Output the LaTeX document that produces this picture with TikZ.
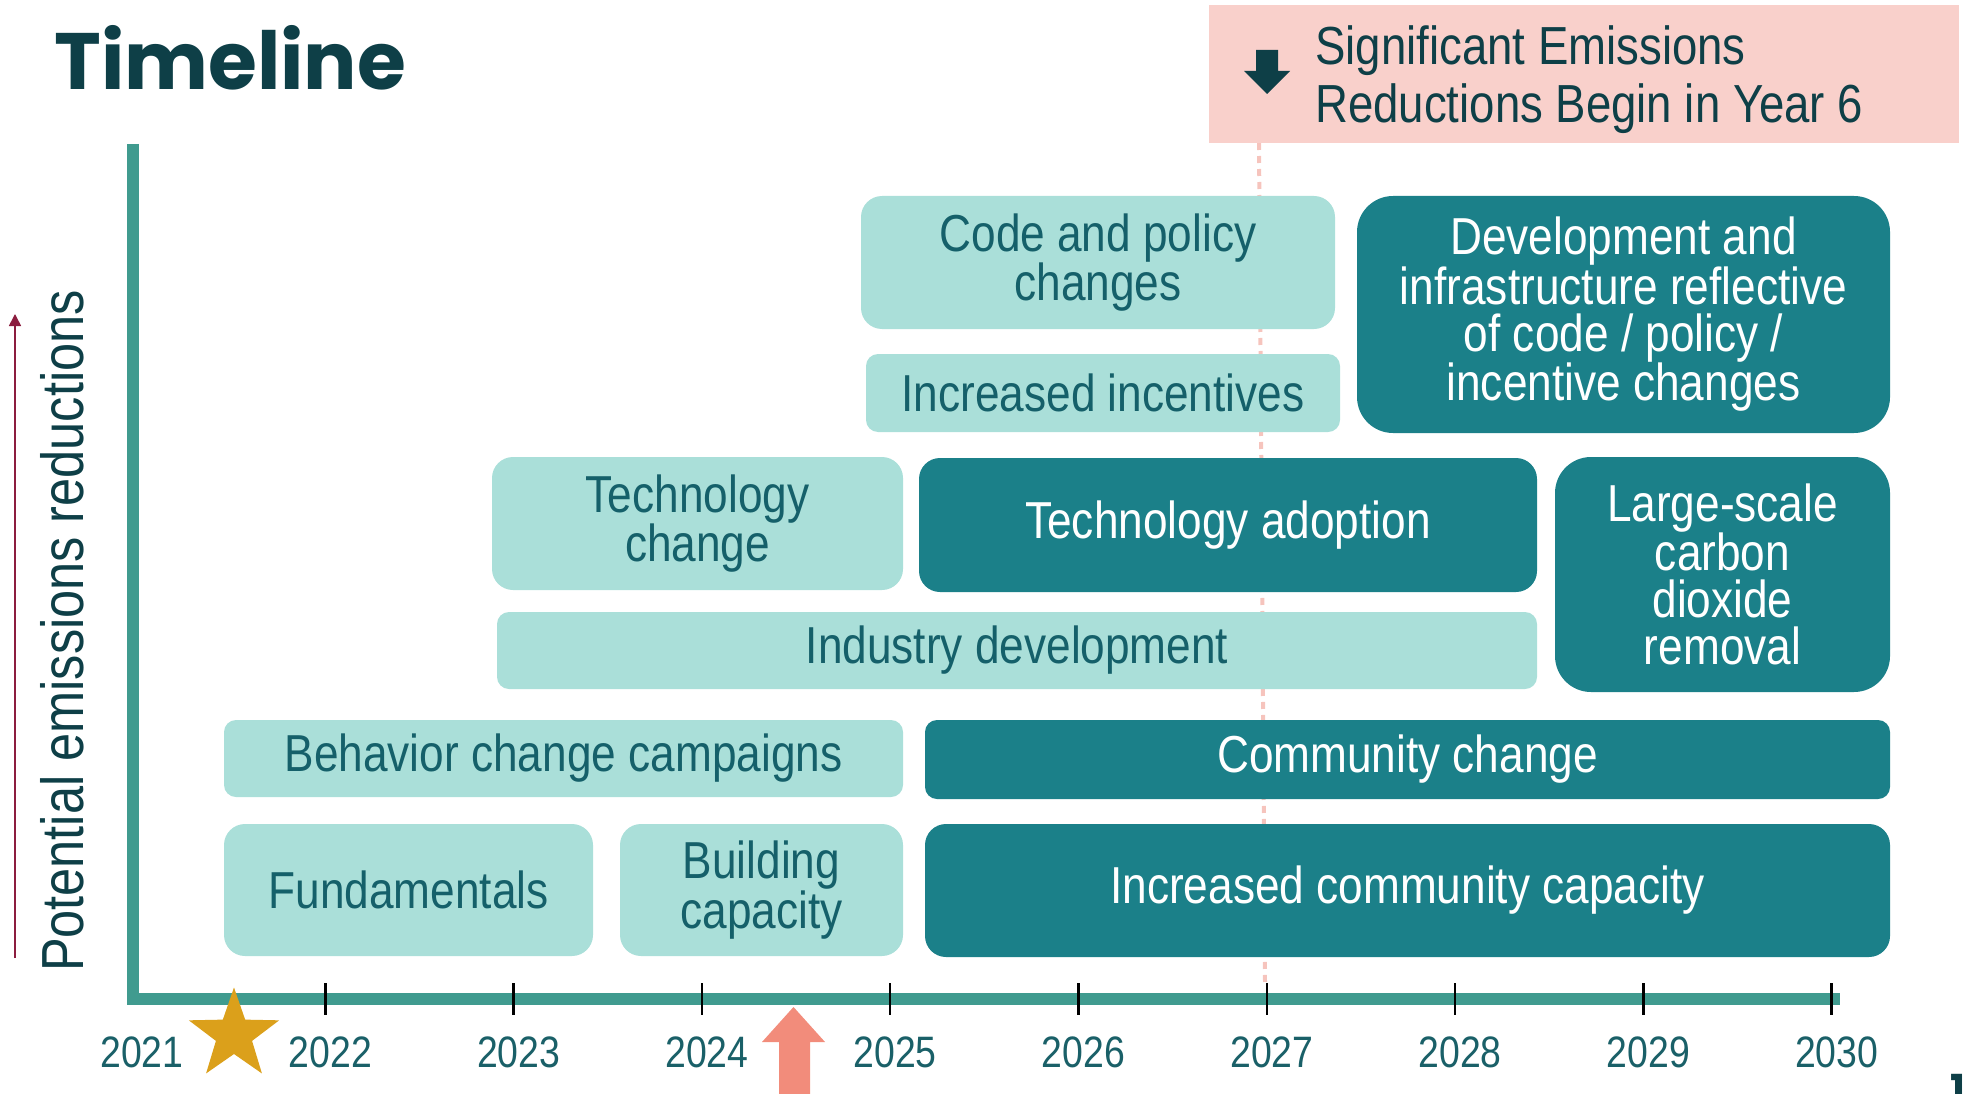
\documentclass[tikz,border=0pt]{standalone}
\usepackage{fontspec}
\setmainfont{Liberation Sans}[FakeStretch=0.85]
\newfontfamily\titlefont{Poppins}[FakeStretch=0.99]
\usetikzlibrary{shapes.geometric,arrows.meta}
\definecolor{lightfill}{HTML}{AADFD9}
\definecolor{darkfill}{HTML}{1B8089}
\definecolor{lighttext}{HTML}{15606A}
\definecolor{axisgreen}{HTML}{409B8F}
\definecolor{titlecol}{HTML}{0E3F47}
\definecolor{pinkbg}{HTML}{F9D0CB}
\definecolor{dotpink}{HTML}{F6C4BD}
\definecolor{stargold}{HTML}{DBA01B}
\definecolor{salmon}{HTML}{F28C7B}
\definecolor{maroonc}{HTML}{8C1D3F}
\definecolor{yearcol}{HTML}{1A6068}
\tikzset{
  lbox/.style={fill=lightfill, text=lighttext, align=center, inner sep=0pt, draw=none,
    font=\fontsize{52}{47}\selectfont},
  dbox/.style={fill=darkfill, text=white, align=center, inner sep=0pt, draw=none,
    font=\fontsize{52}{47}\selectfont},
  yearst/.style={text=yearcol, font=\fontsize{44}{44}\selectfont, inner sep=0pt, anchor=base},
  tickst/.style={black, line width=2.5pt},
}
\begin{document}
\begin{tikzpicture}[x=1pt,y=-1pt]
\useasboundingbox (0,0) rectangle (1969,1094);
% title
\node[anchor=base west, inner sep=0pt, text=titlecol, font=\titlefont\bfseries\fontsize{80}{80}\selectfont] (title) at (54,90) {Timeline};
% dotted line
\coordinate (dtop) at (1259,143);
\coordinate (dbot) at (1265,983);
\draw[dotpink, line width=4pt, dash pattern=on 7pt off 6pt] (dtop) -- (dbot);
% banner
\node[fill=pinkbg, minimum width=750, minimum height=138, inner sep=0pt] (banner) at (1584,74) {};
\fill[titlecol] (1256,50) -- (1278,50) -- (1278,71) -- (1290,71) -- (1267,94) -- (1244,71) -- (1256,71) -- cycle;
\node[anchor=base west, inner sep=0pt, text=titlecol, font=\fontsize{53.6}{58}\selectfont] (ban1) at (1315,65) {Significant Emissions};
\node[anchor=base west, inner sep=0pt, text=titlecol, font=\fontsize{53.6}{58}\selectfont] (ban2) at (1315,123) {Reductions Begin in Year 6};
% axes
\coordinate (ytop) at (133,144);
\coordinate (origin) at (133,999);
\coordinate (xend) at (1840,999);
\draw[axisgreen, line width=12pt, line join=miter] (ytop) -- (origin) -- (xend);
\foreach \k in {1,...,9} {
  \draw[tickst] ({137+188.3*\k},983) -- ({137+188.3*\k},1015);
}
\foreach \yr [count=\k from 0] in {2021,2022,2023,2024,2025,2026,2027,2028,2029,2030} {
  \node[yearst] (yr\yr) at ({142+188.3*\k},1067) {\yr};
}
% y label and arrow
\node[rotate=90, inner sep=0pt, text=titlecol, font=\fontsize{59.4}{59}\selectfont] (ylabel) at (62,631) {Potential emissions reductions};
\coordinate (ya) at (15,958);
\coordinate (yb) at (15,314);
\draw[maroonc, line width=1.6pt, -{Triangle[width=12pt,length=12pt]}] (ya) -- (yb);
% star
\node[star, star points=5, star point ratio=2.5, fill=stargold, minimum size=95, inner sep=0pt] (star) at (234,1035) {};
% salmon arrow
\fill[salmon] (779,1100) -- (779,1042) -- (762,1042) -- (793.5,1007) -- (825,1042) -- (810,1042) -- (810,1100) -- cycle;
% boxes
\node[lbox, rounded corners=21pt, minimum width=369, minimum height=132] (fund) at (408.5,890) {Fundamentals};
\node[lbox, rounded corners=21pt, minimum width=283, minimum height=132] (build) at (761.5,890) {Building\\capacity};
\node[dbox, rounded corners=21pt, minimum width=965, minimum height=133] (icc) at (1407.5,890.5) {Increased community capacity};
\node[lbox, rounded corners=12pt, minimum width=679, minimum height=77] (behav) at (563.5,758.5) {Behavior change campaigns};
\node[dbox, rounded corners=12pt, minimum width=965, minimum height=79] (comm) at (1407.5,759.5) {Community change};
\node[lbox, rounded corners=12pt, minimum width=1040, minimum height=77] (indus) at (1017,650.5) {Industry development};
\node[lbox, rounded corners=21pt, minimum width=411, minimum height=133] (techc) at (697.5,523.5) {Technology\\change};
\node[dbox, rounded corners=21pt, minimum width=618, minimum height=134] (techa) at (1228,525) {Technology adoption};
\node[dbox, rounded corners=36pt, minimum width=335, minimum height=235] (cdr) at (1722.5,574.5) {Large-scale\\carbon\\dioxide\\removal};
\node[lbox, rounded corners=12pt, minimum width=474, minimum height=78] (incent) at (1103,393) {Increased incentives};
\node[lbox, rounded corners=21pt, minimum width=474, minimum height=133] (code) at (1098,262.5) {Code and policy\\changes};
\node[dbox, rounded corners=36pt, minimum width=533, minimum height=237] (devel) at (1623.5,314.5) {Development and\\infrastructure reflective\\of code / policy /\\incentive changes};
% page number
\node[anchor=base west, inner sep=0pt, text=titlecol, font=\titlefont\bfseries\fontsize{40}{40}\selectfont] (pagenum) at (1950,1103) {1};
\end{tikzpicture}
\end{document}
